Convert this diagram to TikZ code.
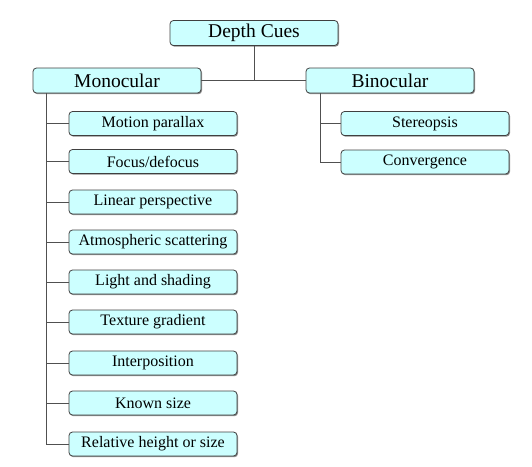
\documentclass[tikz,border=0pt]{standalone}
\usepackage{fontspec}
\setmainfont{Liberation Serif}
\usetikzlibrary{shadows}
\definecolor{boxfill}{HTML}{CCFFFF}
\definecolor{boxline}{HTML}{404040}
\definecolor{linkc}{HTML}{505050}
\tikzset{
  cue/.style={draw=boxline, line width=0.8pt, fill=boxfill, rounded corners=3.5pt,
    minimum width=168pt, minimum height=24pt, inner sep=0pt,
    drop shadow={shadow xshift=1pt, shadow yshift=-1.2pt, fill=black!45, opacity=1}},
  head/.style={cue, minimum height=25pt, font=\fontsize{19.5}{22}\selectfont},
  leaf/.style={cue, font=\fontsize{16}{19}\selectfont},
  link/.style={draw=linkc, line width=0.9pt}
}
\begin{document}
\begin{tikzpicture}[x=1pt, y=-1pt]
\useasboundingbox (0,0) rectangle (532,466);
\node[head] (root) at (254,33) {Depth Cues};
\node[head] (mono) at (117,80.5) {Monocular};
\node[head] (bino) at (390,80.5) {Binocular};
\node[leaf] (m1) at (153,123.5) {Motion parallax};
\node[leaf] (m2) at (153,161.5) {Focus/defocus};
\node[leaf] (m3) at (153,202) {Linear perspective};
\node[leaf] (m4) at (153,242) {Atmospheric scattering};
\node[leaf] (m5) at (153,282) {Light and shading};
\node[leaf] (m6) at (153,322) {Texture gradient};
\node[leaf] (m7) at (153,363) {Interposition};
\node[leaf] (m8) at (153,403) {Known size};
\node[leaf] (m9) at (153,444) {Relative height or size};
\node[leaf] (b1) at (425,123.5) {Stereopsis};
\node[leaf] (b2) at (425,162) {Convergence};
\coordinate (mt) at (46,0);
\coordinate (bt) at (320,0);
\path[link] (root.south) -- (root.south |- mono.east);
\path[link] (mono.east) -- (bino.west);
\path[link] (mono.south -| mt) -- (m9.west -| mt);
\foreach \n in {m1,m2,m3,m4,m5,m6,m7,m8,m9} \path[link] (\n.west -| mt) -- (\n.west);
\path[link] (bino.south -| bt) -- (b2.west -| bt);
\foreach \n in {b1,b2} \path[link] (\n.west -| bt) -- (\n.west);
\end{tikzpicture}
\end{document}
